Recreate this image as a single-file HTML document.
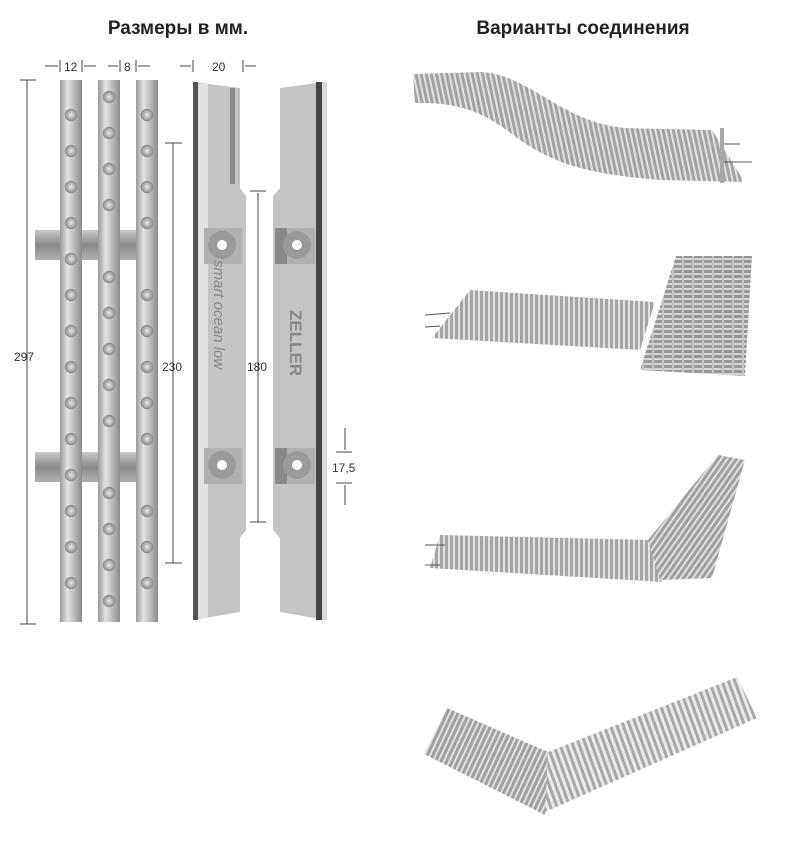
<!DOCTYPE html>
<html><head><meta charset="utf-8"><style>
body{margin:0;background:#fff;}
svg{display:block;}
text{font-family:"Liberation Sans",sans-serif;}
</style></head><body>
<svg width="800" height="853" viewBox="0 0 800 853" xmlns="http://www.w3.org/2000/svg">
<defs>
<linearGradient id="rod" x1="0" x2="1"><stop offset="0" stop-color="#9a9a9a"/><stop offset="0.35" stop-color="#e4e4e4"/><stop offset="1" stop-color="#8a8a8a"/></linearGradient>
<linearGradient id="con" x1="0" y1="0" x2="0" y2="1"><stop offset="0" stop-color="#c8c8c8"/><stop offset="0.5" stop-color="#8a8a8a"/><stop offset="1" stop-color="#b0b0b0"/></linearGradient>
<radialGradient id="knob"><stop offset="0" stop-color="#e8e8e8"/><stop offset="1" stop-color="#8c8c8c"/></radialGradient>
<pattern id="st" width="5" height="10" patternUnits="userSpaceOnUse"><rect width="5" height="10" fill="#e2e2e2"/><rect x="0" width="3" height="10" fill="#a4a4a4"/></pattern>
<pattern id="st1" width="5" height="10" patternUnits="userSpaceOnUse" patternTransform="rotate(-12)"><rect width="5" height="10" fill="#e2e2e2"/><rect width="3" height="10" fill="#a2a2a2"/></pattern>
<pattern id="st2" width="10" height="5" patternUnits="userSpaceOnUse"><rect width="10" height="5" fill="#d6d6d6"/><rect width="10" height="3" fill="#989898"/><rect x="2" width="2" height="5" fill="#c4c4c4"/></pattern>
<pattern id="st3" width="5" height="10" patternUnits="userSpaceOnUse" patternTransform="rotate(35)"><rect width="5" height="10" fill="#e0e0e0"/><rect width="3" height="10" fill="#a0a0a0"/></pattern>
<pattern id="st4" width="6" height="10" patternUnits="userSpaceOnUse" patternTransform="rotate(-20)"><rect width="6" height="10" fill="#eaeaea"/><rect width="3" height="10" fill="#a8a8a8"/></pattern>
<pattern id="st5" width="5" height="10" patternUnits="userSpaceOnUse" patternTransform="rotate(25)"><rect width="5" height="10" fill="#e2e2e2"/><rect width="3" height="10" fill="#a0a0a0"/></pattern>
</defs>

<text x="178" y="34" font-size="19" font-weight="bold" text-anchor="middle" fill="#222">Размеры в мм.</text>
<text x="583" y="34" font-size="19" font-weight="bold" text-anchor="middle" fill="#222">Варианты соединения</text>

<g fill="url(#con)">
<rect x="35" y="230" width="123" height="30"/>
<rect x="35" y="452" width="123" height="30"/>
</g>
<g fill="url(#rod)">
<rect x="60" y="80" width="22" height="542"/>
<rect x="98" y="80" width="22" height="542"/>
<rect x="136" y="80" width="22" height="542"/>
</g>
<g fill="url(#knob)" stroke="#888" stroke-width="0.5">
<circle cx="71" cy="115" r="6"/><circle cx="71" cy="151" r="6"/><circle cx="71" cy="187" r="6"/><circle cx="71" cy="223" r="6"/><circle cx="71" cy="259" r="6"/><circle cx="71" cy="295" r="6"/><circle cx="71" cy="331" r="6"/><circle cx="71" cy="367" r="6"/><circle cx="71" cy="403" r="6"/><circle cx="71" cy="439" r="6"/><circle cx="71" cy="475" r="6"/><circle cx="71" cy="511" r="6"/><circle cx="71" cy="547" r="6"/><circle cx="71" cy="583" r="6"/>
<circle cx="109" cy="97" r="6"/><circle cx="109" cy="133" r="6"/><circle cx="109" cy="169" r="6"/><circle cx="109" cy="205" r="6"/><circle cx="109" cy="277" r="6"/><circle cx="109" cy="313" r="6"/><circle cx="109" cy="349" r="6"/><circle cx="109" cy="385" r="6"/><circle cx="109" cy="421" r="6"/><circle cx="109" cy="493" r="6"/><circle cx="109" cy="529" r="6"/><circle cx="109" cy="565" r="6"/><circle cx="109" cy="601" r="6"/>
<circle cx="147" cy="115" r="6"/><circle cx="147" cy="151" r="6"/><circle cx="147" cy="187" r="6"/><circle cx="147" cy="223" r="6"/><circle cx="147" cy="295" r="6"/><circle cx="147" cy="331" r="6"/><circle cx="147" cy="367" r="6"/><circle cx="147" cy="403" r="6"/><circle cx="147" cy="439" r="6"/><circle cx="147" cy="511" r="6"/><circle cx="147" cy="547" r="6"/><circle cx="147" cy="583" r="6"/>
</g>

<g stroke="#444" stroke-width="1" fill="none">
<line x1="27" y1="80" x2="27" y2="624"/><line x1="20" y1="80" x2="36" y2="80"/><line x1="20" y1="624" x2="36" y2="624"/>
<line x1="60" y1="60" x2="60" y2="72"/><line x1="82" y1="60" x2="82" y2="72"/>
<line x1="120" y1="60" x2="120" y2="72"/><line x1="136" y1="60" x2="136" y2="72"/>
<line x1="193" y1="60" x2="193" y2="72"/><line x1="243" y1="60" x2="243" y2="72"/>
<line x1="45" y1="66" x2="58" y2="66"/><line x1="84" y1="66" x2="96" y2="66"/>
<line x1="108" y1="66" x2="118" y2="66"/><line x1="138" y1="66" x2="150" y2="66"/>
<line x1="180" y1="66" x2="191" y2="66"/><line x1="245" y1="66" x2="256" y2="66"/>
<line x1="173" y1="143" x2="173" y2="563"/><line x1="165" y1="143" x2="182" y2="143"/><line x1="165" y1="563" x2="182" y2="563"/>
<line x1="258" y1="193" x2="258" y2="522"/><line x1="250" y1="191" x2="266" y2="191"/><line x1="250" y1="522" x2="266" y2="522"/>
<line x1="345" y1="428" x2="345" y2="450"/><line x1="336" y1="452" x2="352" y2="452"/><line x1="336" y1="483" x2="352" y2="483"/><line x1="345" y1="485" x2="345" y2="505"/>
</g>
<g font-size="12" fill="#333">
<text x="14" y="361">297</text>
<text x="64" y="71">12</text>
<text x="124" y="71">8</text>
<text x="212" y="71">20</text>
<text x="162" y="371">230</text>
<text x="247" y="371">180</text>
<text x="332" y="472">17,5</text>
</g>

<path d="M193,82 L240,88 L240,188 L246,196 L246,530 L240,538 L240,612 L193,620 Z" fill="#c4c4c4"/>
<rect x="193" y="82" width="5" height="538" fill="#555"/>
<rect x="198" y="84" width="10" height="534" fill="#e2e2e2"/>
<rect x="230" y="88" width="5" height="96" fill="#8a8a8a"/>
<rect x="204" y="228" width="38" height="36" fill="#b0b0b0"/>
<circle cx="222" cy="245" r="14" fill="#9a9a9a"/><circle cx="222" cy="245" r="5" fill="#fff"/>
<rect x="204" y="448" width="38" height="36" fill="#b0b0b0"/>
<circle cx="222" cy="465" r="14" fill="#9a9a9a"/><circle cx="222" cy="465" r="5" fill="#fff"/>
<text transform="translate(214,260) rotate(90)" font-size="15" fill="#888" font-style="italic">smart ocean low</text>
<path d="M280,88 L325,82 L325,620 L280,612 L280,538 L273,530 L273,196 L280,188 Z" fill="#c4c4c4"/>
<rect x="316" y="82" width="6" height="538" fill="#444"/>
<rect x="322" y="82" width="5" height="538" fill="#d8d8d8"/>
<rect x="275" y="228" width="40" height="36" fill="#b0b0b0"/>
<rect x="275" y="228" width="12" height="36" fill="#888"/>
<circle cx="297" cy="245" r="14" fill="#9a9a9a"/><circle cx="297" cy="245" r="5" fill="#fff"/>
<rect x="275" y="448" width="40" height="36" fill="#b0b0b0"/>
<rect x="275" y="448" width="12" height="36" fill="#888"/>
<circle cx="297" cy="465" r="14" fill="#9a9a9a"/><circle cx="297" cy="465" r="5" fill="#fff"/>
<text transform="translate(290,310) rotate(90)" font-size="17" fill="#888" font-weight="bold">ZELLER</text>

<!-- grating 1 -->
<path d="M413,74 L480,72 C530,74 560,122 625,128 L712,130 L742,178 L742,182 L660,180 C600,175 560,168 520,140 C490,118 470,102 415,103 Z" fill="url(#st1)"/>
<path d="M720,144 L740,144 M720,162 L752,162" stroke="#555" stroke-width="1"/>
<rect x="720" y="128" width="4" height="55" fill="#a8a8a8"/>
<!-- grating 2 -->
<polygon points="470,290 655,302 640,350 432,338" fill="url(#st)"/>
<polygon points="676,256 752,256 745,376 640,370" fill="url(#st2)"/>
<path d="M425,315 L450,313 M425,327 L440,326" stroke="#555"/>
<!-- grating 3 -->
<polygon points="440,535 650,540 662,582 430,568" fill="url(#st)"/>
<polygon points="648,540 718,455 745,460 712,578 660,580" fill="url(#st3)"/>
<path d="M425,545 L445,545 M425,565 L440,565" stroke="#555"/>
<!-- grating 4 -->
<polygon points="447,708 548,752 545,815 424,754" fill="url(#st5)"/>
<polygon points="548,752 737,677 757,718 545,812" fill="url(#st4)"/>
</svg>
</body></html>
